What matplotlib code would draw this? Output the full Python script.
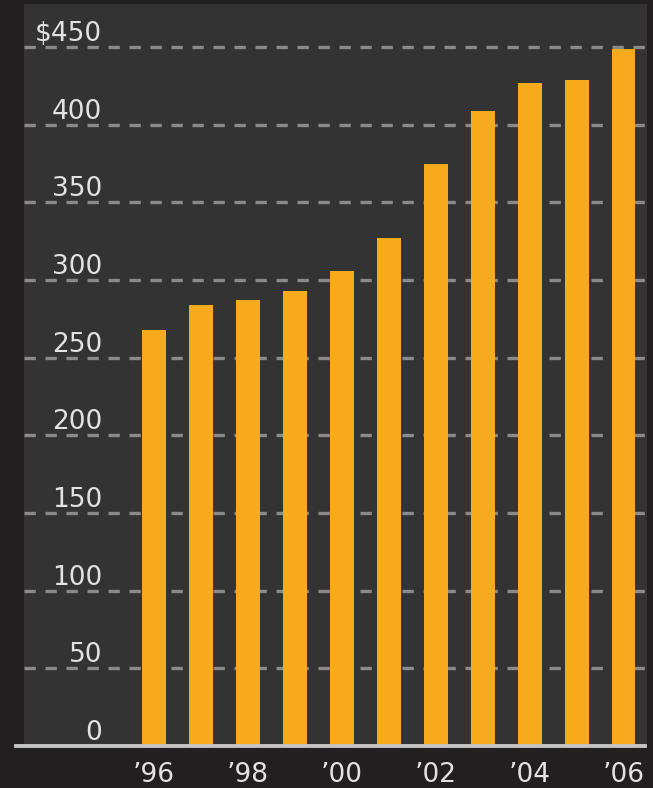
import matplotlib
matplotlib.use("Agg")
import matplotlib.pyplot as plt
from matplotlib.transforms import offset_copy

# data
years = ["'96", "'97", "'98", "'99", "'00", "'01", "'02", "'03", "'04", "'05", "'06"]
values = [268, 284, 287, 293, 306, 327, 375, 409, 427, 429, 449]
ytick_vals = [0, 50, 100, 150, 200, 250, 300, 350, 400, 450]
ytick_labels = ["0", "50", "100", "150", "200", "250", "300", "350", "400", "$450"]

bar_color = "#f5ab1b"
panel_color = "#333333"
outer_color = "#221f20"
text_color = "#e2e2e2"

W, H = 653, 788
fig = plt.figure(figsize=(W / 100, H / 100), dpi=100, facecolor=outer_color)
ax = fig.add_axes([24 / W, (H - 746) / H, 623 / W, 742 / H])
ax.set_facecolor(panel_color)
for s in ax.spines.values():
    s.set_visible(False)
ax.set_xticks([])
ax.set_yticks([])

x = list(range(len(years)))
ax.set_xlim(-2.769, 10.5)
ax.set_ylim(0, 477.7)

# dashed gridlines
for v in ytick_vals[1:]:
    ax.axhline(v, xmin=0, xmax=0.997, color="#8a8a8a", lw=2.4,
               linestyle=(0, (3.4, 2.9)), zorder=1)

ax.bar(x, values, width=0.51, color=bar_color, zorder=2)

# baseline
ax.axhline(0, xmin=-0.013, xmax=0.997, color="#c4c4c4", lw=2.8,
           clip_on=False, zorder=3)

# y labels sitting above the gridlines
ytrans = offset_copy(ax.transData, fig=fig, x=0, y=6, units="dots")
for v, lab in zip(ytick_vals, ytick_labels):
    ax.text(-1.108, v, lab, transform=ytrans, ha="right", va="baseline",
            color=text_color, fontsize=19, family="DejaVu Sans")

# x labels for even years
xtrans = offset_copy(ax.transData, fig=fig, x=0, y=-36, units="dots")
for i, lab in enumerate(years):
    if i % 2 == 0:
        ax.text(i, 0, lab.replace("'", "\u2019"), transform=xtrans,
                ha="center", va="baseline", color=text_color, fontsize=19,
                family="DejaVu Sans", clip_on=False)

fig.savefig("out.png", dpi=100, facecolor=outer_color)
